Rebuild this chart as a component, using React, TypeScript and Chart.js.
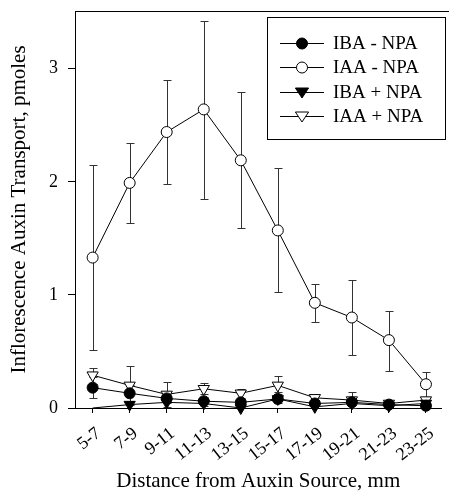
import React, { useEffect, useRef } from 'react';
import { Chart, registerables } from 'chart.js';

Chart.register(...registerables);

const categories = ['5-7', '7-9', '9-11', '11-13', '13-15', '15-17', '17-19', '19-21', '21-23', '23-25'];

const ibaMinusNpa = [0.18, 0.13, 0.085, 0.06, 0.05, 0.08, 0.04, 0.05, 0.03, 0.02];
const iaaMinusNpa = [1.33, 1.99, 2.44, 2.64, 2.19, 1.57, 0.93, 0.8, 0.6, 0.21];
const ibaPlusNpa = [0, 0.03, 0.05, 0.04, 0.0, 0.08, 0.01, 0.04, 0.02, 0.04];
const iaaPlusNpa = [0.29, 0.2, 0.12, 0.17, 0.13, 0.2, 0.09, 0.07, 0.04, 0.07];

const iaaMinusHigh = [2.15, 2.34, 2.9, 3.42, 2.79, 2.12, 1.1, 1.13, 0.86, 0.32];
const iaaMinusLow = [0.51, 1.64, 1.98, 1.85, 1.59, 1.03, 0.76, 0.47, 0.33, 0.1];
const iaaPlusHigh = [0.35, 0.37, 0.23, 0.22, 0.17, 0.28, 0.11, 0.14, 0.05, 0.09];
const iaaPlusLow = [0.21, 0.03, 0.01, 0.12, 0.09, 0.12, 0.07, 0.0, 0.02, 0.04];
const ibaMinusHigh = [0.27, 0.2, 0.12, 0.1, 0.08, 0.14, 0.06, 0.08, 0.05, 0.04];
const ibaMinusLow = [0.09, 0.06, 0.04, 0.02, 0.01, 0.04, 0.02, 0.03, 0.01, 0.0];

const legendOrder = ['IBA - NPA', 'IAA - NPA', 'IBA + NPA', 'IAA + NPA'];

const yTickStep = 1;
const yMax = 3.51;

const FONT = '"Liberation Serif", "Times New Roman", serif';

const errorSets = [
  { high: ibaMinusHigh, low: ibaMinusLow },
  { high: iaaPlusHigh, low: iaaPlusLow },
  { high: iaaMinusHigh, low: iaaMinusLow },
];

function drawMarker(ctx: CanvasRenderingContext2D, style: string, filled: boolean, x: number, y: number, r: number) {
  ctx.beginPath();
  if (style === 'circle') {
    ctx.arc(x, y, r, 0, Math.PI * 2);
  } else {
    const h = r * 1.5;
    ctx.moveTo(x - r * 1.1, y - h / 2);
    ctx.lineTo(x + r * 1.1, y - h / 2);
    ctx.lineTo(x, y + h / 2 + 1);
    ctx.closePath();
  }
  ctx.fillStyle = filled ? '#000' : '#fff';
  ctx.fill();
  ctx.strokeStyle = '#000';
  ctx.lineWidth = 1;
  ctx.stroke();
}

export default function App() {
  const ref = useRef<HTMLCanvasElement>(null);

  useEffect(() => {
    if (!ref.current) return;

    const errorBars = {
      id: 'errorBars',
      beforeDatasetsDraw(chart: any) {
        const { ctx } = chart;
        const x = chart.scales.x;
        const y = chart.scales.y;
        ctx.save();
        ctx.strokeStyle = '#333';
        ctx.lineWidth = 1;
        errorSets.forEach(({ high, low }) => {
          high.forEach((h, i) => {
            const px = Math.round(x.getPixelForValue(i)) + 0.5;
            const pyH = Math.round(y.getPixelForValue(h)) + 0.5;
            const pyL = Math.round(y.getPixelForValue(low[i])) + 0.5;
            ctx.beginPath();
            ctx.moveTo(px, pyH);
            ctx.lineTo(px, pyL);
            ctx.moveTo(px - 4, pyH);
            ctx.lineTo(px + 4, pyH);
            ctx.moveTo(px - 4, pyL);
            ctx.lineTo(px + 4, pyL);
            ctx.stroke();
          });
        });
        ctx.restore();
      },
    };

    const frameAndLegend = {
      id: 'frameAndLegend',
      afterDraw(chart: any) {
        const { ctx, chartArea } = chart;
        ctx.save();
        ctx.strokeStyle = '#000';
        ctx.lineWidth = 1;
        ctx.beginPath();
        ctx.moveTo(chartArea.left, Math.round(chartArea.top) + 0.5);
        ctx.lineTo(chart.width, Math.round(chartArea.top) + 0.5);
        ctx.stroke();

        const bx = 267.5, by = 17.5, bw = 178, bh = 122;
        ctx.fillStyle = '#fff';
        ctx.fillRect(bx, by, bw, bh);
        ctx.strokeRect(bx, by, bw, bh);
        ctx.font = `19px ${FONT}`;
        ctx.textBaseline = 'middle';
        ctx.textAlign = 'left';
        legendOrder.forEach((name, i) => {
          const ds = chart.data.datasets.find((d: any) => d.label === name);
          if (!ds) return;
          const cy = Math.round(43 + i * 24.3) + 0.5;
          ctx.strokeStyle = '#000';
          ctx.lineWidth = 1;
          ctx.beginPath();
          ctx.moveTo(280, cy);
          ctx.lineTo(324, cy);
          ctx.stroke();
          drawMarker(ctx, ds.pointStyle, ds.pointBackgroundColor === '#000', 302, cy, ds.pointStyle === 'circle' ? 5.5 : 6);
          ctx.fillStyle = '#000';
          ctx.fillText(ds.label, 333, cy + 1);
        });
        ctx.restore();
      },
    };

    const mk = (label: string, data: number[], style: string, filled: boolean, hideFirst = false) => ({
      label,
      data: data.map((v, i) => ({ x: i, y: v })),
      borderColor: '#000',
      borderWidth: 1,
      pointStyle: style,
      pointRotation: style === 'triangle' ? 180 : 0,
      pointRadius: (c: any) => (hideFirst && c.dataIndex === 0 ? 0 : style === 'circle' ? 5.5 : 6.5),
      pointBackgroundColor: filled ? '#000' : '#fff',
      pointBorderColor: '#000',
      pointBorderWidth: 1,
      fill: false,
      tension: 0,
      clip: false,
    });

    const chart = new Chart(ref.current, {
      type: 'line',
      data: {
        datasets: [
          mk('IBA - NPA', ibaMinusNpa, 'circle', true),
          mk('IBA + NPA', ibaPlusNpa, 'triangle', true, true),
          mk('IAA + NPA', iaaPlusNpa, 'triangle', false),
          mk('IAA - NPA', iaaMinusNpa, 'circle', false),
        ] as any,
      },
      options: {
        animation: false,
        responsive: true,
        maintainAspectRatio: false,
        layout: { padding: { top: 11, left: 0, right: 0, bottom: 0 } },
        plugins: { legend: { display: false }, tooltip: { enabled: false } },
        scales: {
          x: {
            type: 'linear',
            min: -0.476,
            max: 9.42,
            afterBuildTicks: (s: any) => {
              s.ticks = categories.map((_, i) => ({ value: i }));
            },
            afterFit: (s: any) => {
              s.height = 86;
              s.paddingLeft = 0;
              s.paddingRight = 0;
            },
            ticks: {
              callback: (v: any) => categories[v as number] ?? '',
              autoSkip: false,
              minRotation: 38,
              maxRotation: 38,
              color: '#000',
              font: { family: FONT, size: 18 },
              padding: 10,
              labelOffset: 6,
            },
            grid: { drawOnChartArea: false, drawTicks: true, tickLength: 5, color: '#000' },
            border: { display: true, color: '#000', width: 1 },
            title: {
              display: true,
              text: 'Distance from Auxin Source, mm',
              color: '#000',
              font: { family: FONT, size: 21, lineHeight: 1.2 },
              padding: { top: 0, bottom: 0 },
            },
          },
          y: {
            min: 0,
            max: yMax,
            afterFit: (s: any) => {
              s.width = 75;
              s.paddingTop = 0;
              s.paddingBottom = 0;
            },
            ticks: {
              stepSize: yTickStep,
              includeBounds: false,
              color: '#000',
              font: { family: FONT, size: 18 },
              padding: 10,
            },
            grid: { drawOnChartArea: false, drawTicks: true, tickLength: 7, color: '#000' },
            border: { display: true, color: '#000', width: 1 },
            title: {
              display: true,
              text: 'Inflorescence Auxin Transport, pmoles',
              color: '#000',
              font: { family: FONT, size: 21, lineHeight: 1.2 },
              padding: { top: 7, bottom: 0 },
            },
          },
        },
      },
      plugins: [errorBars, frameAndLegend],
    });

    return () => chart.destroy();
  }, []);

  return (
    <div style={{ position: 'fixed', left: 0, top: 0, width: 449, height: 494, background: '#fff' }}>
      <canvas ref={ref} />
    </div>
  );
}
